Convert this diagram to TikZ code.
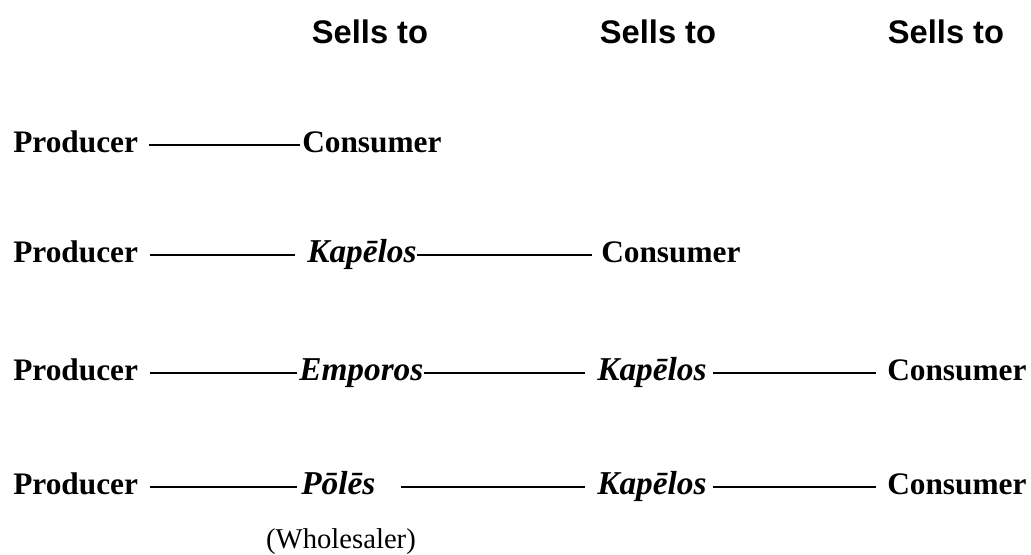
\documentclass[tikz,border=0pt]{standalone}
\usepackage{fontspec}
\setmainfont{Liberation Serif}
\setsansfont{Liberation Sans}
\usepackage{tikz}

\begin{document}
\begin{tikzpicture}[x=0.75pt, y=-0.75pt,
    term/.style={inner sep=0pt, anchor=base west, text height=15pt, text depth=4.4pt, font=\fontsize{23.5}{27}\selectfont\bfseries},
    trader/.style={term, font=\fontsize{25}{29}\selectfont\bfseries\itshape},
    header/.style={inner sep=0pt, anchor=base, font=\fontsize{24.5}{29}\selectfont\sffamily\bfseries},
    link/.style={line width=0.9pt}]
                \useasboundingbox (0,0) rectangle (1031,554);
                % column headers
                \node[header] (h1) at (370,43) {Sells to};
                \node[header] (h2) at (658,43) {Sells to};
                \node[header] (h3) at (946,43) {Sells to};
                % direct sale
                \node[term] (prod1) at (13,152) {Producer};
                \node[term] (cons1) at (302,152) {Consumer};
                \draw[link, shorten <=8pt, shorten >=1.5pt] (prod1.east) -- (cons1.west);
                % through a retailer
                \node[term] (prod2) at (13,262) {Producer};
                \node[trader] (kap2) at (307,262) {Kapēlos};
                \node[term] (cons2) at (601,262) {Consumer};
                \draw[link, shorten <=9pt, shorten >=9pt] (prod2.east) -- (kap2.west);
                \draw[link, shorten <=0pt, shorten >=7pt] (kap2.east) -- (cons2.west);
                % merchant and retailer
                \node[term] (prod3) at (13,380) {Producer};
                \node[trader] (emp3) at (299,380) {Emporos};
                \node[trader] (kap3) at (597,380) {Kapēlos};
                \node[term] (cons3) at (887,380) {Consumer};
                \draw[link, shorten <=9pt, shorten >=1.5pt] (prod3.east) -- (emp3.west);
                \draw[link, shorten <=0pt, shorten >=9pt] (emp3.east) -- (kap3.west);
                \draw[link, shorten <=5pt, shorten >=8pt] (kap3.east) -- (cons3.west);
                % wholesaler and retailer
                \node[term] (prod4) at (13,494) {Producer};
                \node[trader] (pol4) at (301,494) {Pōlēs};
                \node[trader] (kap4) at (597,494) {Kapēlos};
                \node[term] (cons4) at (887,494) {Consumer};
                \node[inner sep=0pt, anchor=base, font=\fontsize{21.5}{26}\selectfont] (whole) at (341,548) {(Wholesaler)};
                \draw[link, shorten <=9pt, shorten >=3pt] (prod4.east) -- (pol4.west);
                \draw[link, shorten <=19pt, shorten >=9pt] (pol4.east) -- (kap4.west);
                \draw[link, shorten <=5pt, shorten >=8pt] (kap4.east) -- (cons4.west);
            \end{tikzpicture}
\end{document}
